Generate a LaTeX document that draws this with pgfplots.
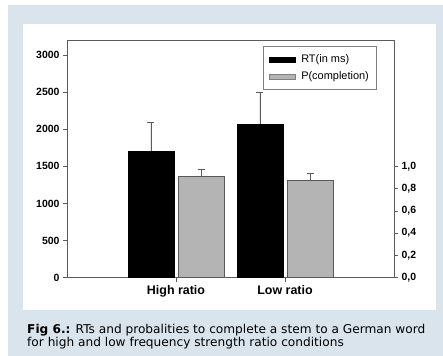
\documentclass[border=0pt]{standalone}
\usepackage{pgfplots}
\pgfplotsset{compat=1.18}
\usepackage{fontspec}
\setmainfont{Liberation Sans}
\newfontfamily\capfont{DejaVu Sans}
\definecolor{bgblue}{HTML}{DAE4EC}
\definecolor{bargray}{HTML}{B4B4B4}
\definecolor{axgray}{HTML}{5A5A5A}
\begin{document}
\begin{tikzpicture}
\useasboundingbox (0,0) rectangle (443bp,-356bp);
\fill[white] (0,0) rectangle (443bp,-356bp);
\fill[bgblue] (8bp,-5bp) rectangle (443bp,-356bp);
\fill[white] (23bp,-24bp) rectangle (436bp,-310bp);
\begin{axis}[
  at={(67bp,-277.7bp)}, anchor=south west,
  scale only axis, width=327bp, height=237.7bp,
  xmin=0, xmax=3, ymin=0, ymax=3200,
  xtick={1,2}, xticklabels={High ratio, Low ratio},
  ytick={0,500,1000,1500,2000,2500,3000},
  ytick pos=left, xtick pos=left,
  tick align=outside,
  major tick length=4bp,
  axis line style={axgray, line width=0.6pt},
  tick style={axgray, line width=0.6pt},
  /pgf/number format/assume math mode=true,
  /pgf/number format/1000 sep={},
  scaled y ticks=false,
  yticklabel style={font=\fontsize{10.5}{12}\selectfont\bfseries},
  xticklabel style={font=\fontsize{12.5}{14}\selectfont\bfseries},
  ybar, bar width=0.42, bar shift=-0.23,
  legend image code/.code={\draw[#1] (0bp,-2.5bp) rectangle (26bp,2.5bp); \path (30bp,0);},
  legend style={at={(0.947,0.975)}, anchor=north east, draw=gray, line width=0.6pt,
    font=\fontsize{11}{13}\selectfont, row sep=3.5bp, inner xsep=5.5bp, inner ysep=6.5bp},
  legend cell align=left,
]
\addplot[fill=black, draw=black, line width=0.6pt,
  error bars/.cd, y dir=plus, y explicit,
  error bar style={axgray, line width=0.7pt},
  error mark options={rotate=90, axgray, mark size=3.5bp, line width=0.7pt}]
  coordinates {(1,1700) +- (0,390) (2,2068) +- (0,430)};
\addlegendimage{fill=bargray, draw=gray, line width=0.6pt}
\legend{RT(in ms), P(completion)}
\end{axis}
\begin{axis}[
  at={(67bp,-277.7bp)}, anchor=south west,
  scale only axis, width=327bp, height=237.7bp,
  xmin=0, xmax=3, ymin=0, ymax=2.133333,
  axis x line=none, axis y line*=right,
  ytick={0,0.2,0.4,0.6,0.8,1.0},
  tick align=outside,
  major tick length=4bp,
  axis line style={draw=none},
  tick style={axgray, line width=0.6pt},
  /pgf/number format/assume math mode=true,
  yticklabel style={font=\fontsize{10.5}{12}\selectfont\bfseries,
    /pgf/number format/.cd, fixed, fixed zerofill, precision=1, use comma},
  ybar, bar width=0.42, bar shift=0.23,
]
\addplot[fill=bargray, draw=gray!70!black, line width=0.6pt,
  error bars/.cd, y dir=plus, y explicit,
  error bar style={axgray, line width=0.7pt},
  error mark options={rotate=90, axgray, mark size=3.5bp, line width=0.7pt}]
  coordinates {(1,0.908) +- (0,0.066) (2,0.874) +- (0,0.061)};
\end{axis}
\node[anchor=base west, inner sep=0, font=\capfont\fontsize{12.2}{14}\selectfont] at (27bp,-333bp)
  {\textbf{Fig 6.:} RTs and probalities to complete a stem to a German word};
\node[anchor=base west, inner sep=0, font=\capfont\fontsize{12.2}{14}\selectfont] at (27bp,-346.5bp)
  {for high and low frequency strength ratio conditions};
\end{tikzpicture}
\end{document}
